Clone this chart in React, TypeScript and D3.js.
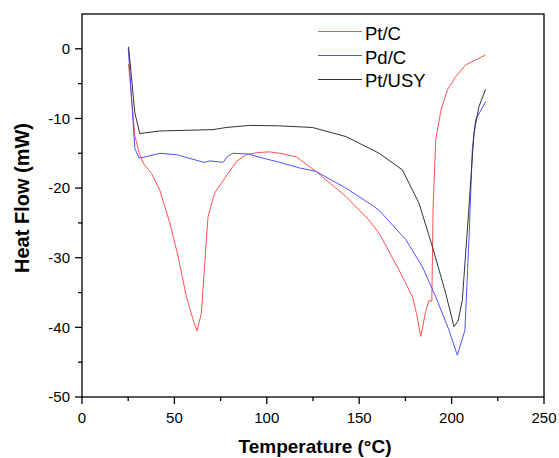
import React from "react";
import * as d3 from "d3";

const xTicks = [0, 50, 100, 150, 200, 250];
const yTicks = [-50, -40, -30, -20, -10, 0];

const ptcT = [25.2, 28.6, 31.0, 33.1, 37.6, 42.1, 47.5, 52.0, 56.5, 60.1, 62.2, 64.6, 66.4, 68.2, 71.8, 77.2, 83.5, 88.9, 95.0, 101.5, 106.9, 115.9, 126.6, 142.8, 155.0, 160.8, 171.6, 178.8, 181.0, 183.3, 186.0, 187.8, 189.3, 190.0, 191.4, 194.1, 197.7, 202.2, 207.6, 213.0, 218.4];
const ptcH = [-2.2, -12.5, -15.0, -16.4, -17.9, -20.3, -25.0, -29.8, -35.6, -38.9, -40.5, -38.0, -30.8, -24.1, -20.7, -18.6, -16.2, -15.2, -14.9, -14.8, -15.0, -15.5, -17.6, -21.2, -24.5, -26.5, -31.8, -35.6, -38.0, -41.3, -37.7, -36.1, -36.3, -22.7, -13.1, -9.0, -5.9, -4.0, -2.3, -1.6, -0.86];

const pdcT = [25.0, 28.6, 30.9, 33.0, 42.1, 51.1, 64.6, 66.4, 69.1, 76.3, 79.0, 81.7, 89.8, 98.0, 106.9, 117.6, 126.6, 142.8, 157.2, 160.8, 175.2, 184.2, 191.4, 198.6, 203.1, 207.2, 209.4, 211.2, 213.0, 218.4];
const pdcH = [0.2, -14.3, -15.7, -15.6, -15.0, -15.2, -16.2, -16.3, -16.1, -16.3, -15.4, -15.0, -15.1, -15.7, -16.3, -17.1, -17.6, -20.0, -22.5, -23.2, -27.4, -31.3, -35.6, -40.4, -44.0, -40.4, -27.4, -14.5, -10.2, -7.6];

const usyT = [25.2, 28.6, 31.3, 33.0, 42.1, 70.9, 78.0, 90.7, 106.9, 124.8, 142.8, 160.8, 173.4, 182.4, 189.6, 196.8, 201.3, 203.5, 205.8, 209.4, 212.1, 214.8, 218.4];
const usyH = [0.3, -9.2, -12.2, -12.1, -11.8, -11.6, -11.3, -11.0, -11.06, -11.3, -12.6, -15.0, -17.4, -22.2, -28.4, -35.1, -39.9, -39.1, -36.1, -22.7, -12.1, -8.3, -5.8];

const seriesNames = ["Pt/C", "Pd/C", "Pt/USY"];
const seriesColors = ["#ff5050", "#5050ff", "#333333"];

export default function App() {
  const W = 559, H = 458;
  const left = 82, right = 544, top = 14, bottom = 397;
  const x = d3.scaleLinear().domain([0, 250]).range([left, right]);
  const y = d3.scaleLinear().domain([-50, 5]).range([bottom, top]);
  const line = d3.line<[number, number]>().x(d => x(d[0])).y(d => y(d[1]));
  const series = [
    ptcT.map((t, i) => [t, ptcH[i]] as [number, number]),
    pdcT.map((t, i) => [t, pdcH[i]] as [number, number]),
    usyT.map((t, i) => [t, usyH[i]] as [number, number]),
  ];
  const xMinor = d3.range(25, 250, 50);
  const yMinor = d3.range(-45, 5, 10);
  const font = "'Liberation Sans', Arial, sans-serif";
  return (
    <svg width={W} height={H} style={{ position: "absolute", left: 0, top: 0 }} fontFamily={font}>
      <rect width={W} height={H} fill="white" />
      {series.map((s, i) => (
        <path key={i} d={line(s) || ""} fill="none" stroke={seriesColors[i]} strokeWidth={1} strokeLinejoin="round" />
      ))}
      <rect x={left} y={top} width={right - left} height={bottom - top} fill="none" stroke="black" strokeWidth={1.3} />
      {xTicks.map(t => (
        <g key={"xt" + t}>
          <line x1={x(t)} x2={x(t)} y1={bottom} y2={bottom + 7} stroke="black" strokeWidth={1.3} />
          <text x={x(t)} y={423} textAnchor="middle" fontSize={15}>{t}</text>
        </g>
      ))}
      {xMinor.map(t => (
        <line key={"xm" + t} x1={x(t)} x2={x(t)} y1={bottom} y2={bottom + 4} stroke="black" strokeWidth={1.3} />
      ))}
      {yTicks.map(t => (
        <g key={"yt" + t}>
          <line x1={left - 7} x2={left} y1={y(t)} y2={y(t)} stroke="black" strokeWidth={1.3} />
          <text x={70} y={y(t) + 5.4} textAnchor="end" fontSize={15}>{t}</text>
        </g>
      ))}
      {yMinor.map(t => (
        <line key={"ym" + t} x1={left - 4} x2={left} y1={y(t)} y2={y(t)} stroke="black" strokeWidth={1.3} />
      ))}
      <text x={315} y={453} textAnchor="middle" fontSize={19} fontWeight="bold">Temperature (°C)</text>
      <text transform={`translate(29,198) rotate(-90)`} textAnchor="middle" fontSize={20} fontWeight="bold">Heat Flow (mW)</text>
      {seriesNames.map((n, i) => (
        <g key={n}>
          <line x1={318} x2={362} y1={31.5 + i * 24} y2={31.5 + i * 24} stroke={seriesColors[i]} strokeWidth={1} />
          <text x={365} y={40 + i * 23.5} fontSize={18.5}>{n}</text>
        </g>
      ))}
    </svg>
  );
}
